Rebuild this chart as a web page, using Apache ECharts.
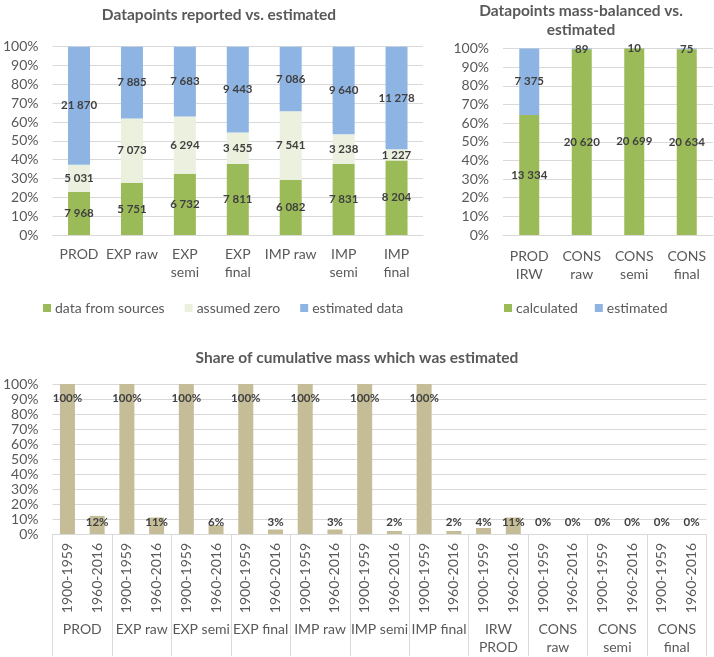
<!DOCTYPE html>
<html>
<head>
<meta charset="utf-8">
<script src="https://cdn.jsdelivr.net/npm/echarts@6/dist/echarts.min.js"></script>
<style>html,body{margin:0;padding:0;background:#fff;}#c{width:714px;height:657px;}</style>
</head>
<body>
<div id="c"></div>
<script>
// ---- data ----
const reportedCats = ['PROD', 'EXP raw', 'EXP\nsemi', 'EXP\nfinal', 'IMP raw', 'IMP\nsemi', 'IMP\nfinal'];
const fromSources = [7968, 5751, 6732, 7811, 6082, 7831, 8204];
const assumedZero = [5031, 7073, 6294, 3455, 7541, 3238, 1227];
const estimatedData = [21870, 7885, 7683, 9443, 7086, 9640, 11278];

const balancedCats = ['PROD\nIRW', 'CONS\nraw', 'CONS\nsemi', 'CONS\nfinal'];
const calculated = [13334, 20620, 20699, 20634];
const estimatedMB = [7375, 89, 10, 75];

const groups = ['PROD', 'EXP raw', 'EXP semi', 'EXP final', 'IMP raw', 'IMP semi', 'IMP final', 'IRW\nPROD', 'CONS\nraw', 'CONS\nsemi', 'CONS\nfinal'];
const periods = ['1900-1959', '1960-2016'];
const share1900 = [100, 100, 100, 100, 100, 100, 100, 4, 0, 0, 0];
const share1960 = [12, 11, 6, 3, 3, 2, 2, 11, 0, 0, 0];

// ---- helpers ----
const FONT = 'Lato';
const AX = '#595959';
const GRID = '#D9D9D9';
const LBL = '#404040';
const AXFS = 14;
const fmt = n => String(n).replace(/\B(?=(\d{3})+(?!\d))/g, ' ');
function shares(seriesList) {
  const totals = seriesList[0].map((_, i) => seriesList.reduce((s, a) => s + a[i], 0));
  return seriesList.map(a => a.map((v, i) => v / totals[i] * 100));
}
const repShares = shares([fromSources, assumedZero, estimatedData]);
const balShares = shares([calculated, estimatedMB]);

const periodCats = [];
const periodVals = [];
groups.forEach((g, i) => {
  periodCats.push(periods[0]); periodVals.push(share1900[i]);
  periodCats.push(periods[1]); periodVals.push(share1960[i]);
});

function yAxis(gi) {
  return {
    gridIndex: gi, type: 'value', min: 0, max: 100, interval: 10,
    axisLabel: { formatter: '{value}%', color: AX, fontFamily: FONT, fontSize: AXFS, margin: 14 },
    axisLine: { show: false }, axisTick: { show: false },
    splitLine: { lineStyle: { color: GRID, width: 1 } }
  };
}

function stackSeries(name, gi, stack, color, pct, raw, barWidth) {
  return {
    name, type: 'bar', stack, xAxisIndex: gi, yAxisIndex: gi, barWidth,
    itemStyle: { color },
    data: pct,
    label: {
      show: true, position: 'inside', color: LBL, fontFamily: FONT, fontWeight: 'bold', fontSize: 11.5,
      formatter: p => fmt(raw[p.dataIndex])
    },
    emphasis: { disabled: true }
  };
}

const shareData = periodVals.map(v => ({
  value: v,
  label: v >= 50
    ? { position: 'insideTop', distance: 8 }
    : { position: 'insideBottom', distance: 6 }
}));

const titleStyle = { color: AX, fontFamily: FONT, fontWeight: 'bold', fontSize: 15.5, lineHeight: 19 };

const option = {
  animation: false,
  textStyle: { fontFamily: FONT },
  title: [
    { text: 'Datapoints reported vs. estimated', left: 219, top: 5.5, padding: 0, textAlign: 'center', textStyle: titleStyle },
    { text: 'Datapoints mass-balanced vs.\nestimated', left: 581, top: 1.5, padding: 0, textAlign: 'center', textStyle: titleStyle },
    { text: 'Share of cumulative mass which was estimated', left: 357, top: 348.5, padding: 0, textAlign: 'center', textStyle: titleStyle }
  ],
  legend: [
    { data: ['data from sources', 'assumed zero', 'estimated data'], left: 38, top: 296,
      icon: 'rect', itemWidth: 8, itemHeight: 8, itemGap: 20, selectedMode: false,
      textStyle: { color: AX, fontFamily: FONT, fontSize: AXFS, padding: [0, 0, 0, -1] } },
    { data: ['calculated', 'estimated'], left: 499, top: 296,
      icon: 'rect', itemWidth: 8, itemHeight: 8, itemGap: 17, selectedMode: false,
      textStyle: { color: AX, fontFamily: FONT, fontSize: AXFS, padding: [0, 0, 0, -1] } }
  ],
  grid: [
    { left: 52, right: 291, top: 46.7, bottom: 422 },
    { left: 503, right: 1, top: 48.5, bottom: 422 },
    { left: 51.5, right: 7.5, top: 384, bottom: 123 }
  ],
  xAxis: [
    { gridIndex: 0, type: 'category', data: reportedCats,
      axisLine: { lineStyle: { color: GRID } }, axisTick: { show: false },
      axisLabel: { color: AX, fontFamily: FONT, fontSize: AXFS, lineHeight: 18, margin: 10, interval: 0 } },
    { gridIndex: 1, type: 'category', data: balancedCats,
      axisLine: { lineStyle: { color: GRID } }, axisTick: { show: false },
      axisLabel: { color: AX, fontFamily: FONT, fontSize: AXFS, lineHeight: 18, margin: 12, interval: 0 } },
    { gridIndex: 2, type: 'category', data: periodCats,
      axisLine: { lineStyle: { color: GRID } }, axisTick: { show: false },
      axisLabel: { color: AX, fontFamily: FONT, fontSize: AXFS, rotate: 90, margin: 9, interval: 0 } },
    { gridIndex: 2, type: 'category', data: groups, position: 'bottom',
      axisLine: { show: false },
      axisTick: { show: true, length: 122, interval: 0, lineStyle: { color: GRID } },
      axisLabel: { color: AX, fontFamily: FONT, fontSize: AXFS, lineHeight: 18, margin: 86, interval: 0 } }
  ],
  yAxis: [yAxis(0), yAxis(1), yAxis(2)],
  series: [
    stackSeries('data from sources', 0, 'rep', '#9BBB59', repShares[0], fromSources, 22),
    stackSeries('assumed zero', 0, 'rep', '#EBF1DE', repShares[1], assumedZero, 22),
    stackSeries('estimated data', 0, 'rep', '#8EB4E3', repShares[2], estimatedData, 22),
    stackSeries('calculated', 1, 'bal', '#9BBB59', balShares[0], calculated, 20),
    stackSeries('estimated', 1, 'bal', '#8EB4E3', balShares[1], estimatedMB, 20),
    {
      name: 'share', type: 'bar', xAxisIndex: 2, yAxisIndex: 2, barWidth: 15,
      itemStyle: { color: '#C4BD97' },
      data: shareData,
      label: { show: true, color: LBL, fontFamily: FONT, fontWeight: 'bold', fontSize: 11.5,
        formatter: p => p.value + '%' },
      emphasis: { disabled: true }
    }
  ]
};

const chart = echarts.init(document.getElementById('c'), null, { renderer: 'canvas' });
chart.setOption(option);
</script>
</body>
</html>
